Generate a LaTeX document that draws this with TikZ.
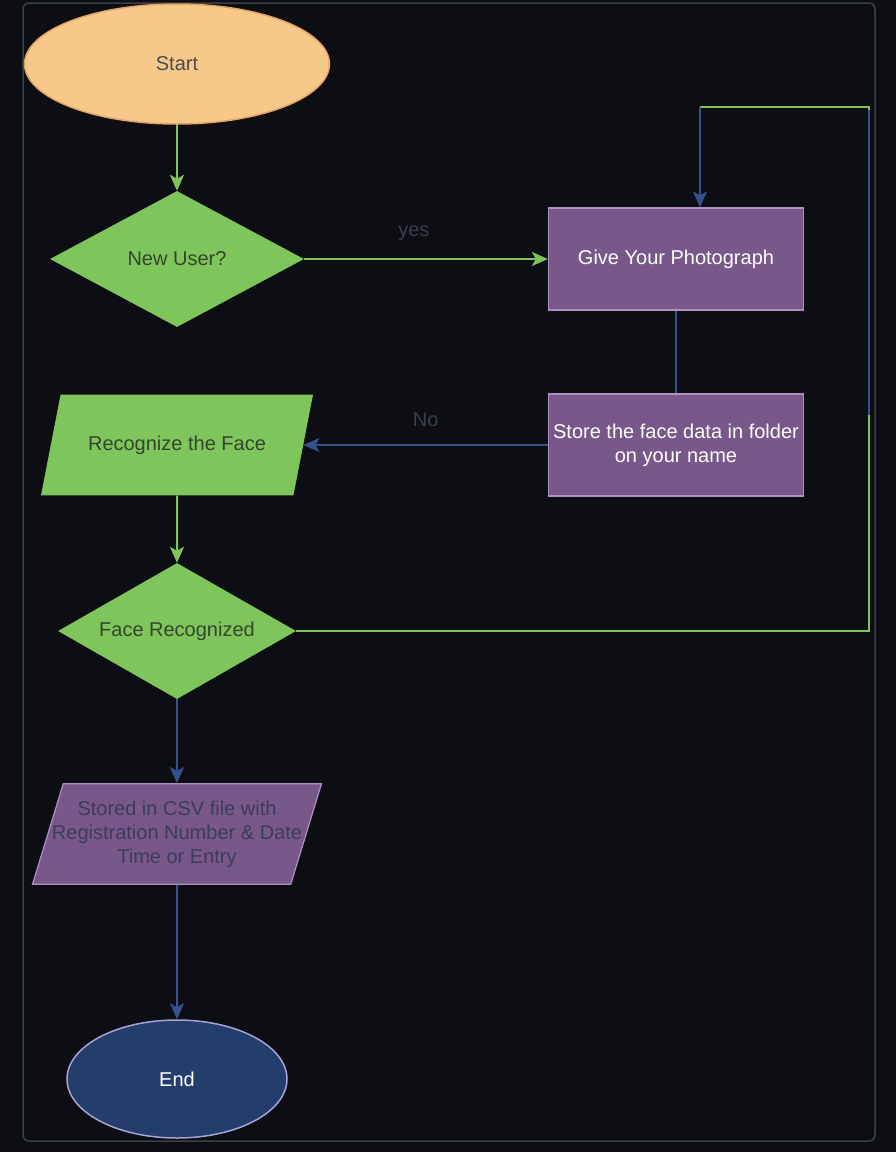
\documentclass[tikz,border=0pt]{standalone}
\usepackage{fontspec}
\setmainfont{Liberation Sans}
\usepackage{tikz}
\usetikzlibrary{shapes.geometric, arrows.meta, positioning}
\definecolor{NightBg}{HTML}{0C0E13}
\definecolor{FrameGrey}{HTML}{3B4048}
\definecolor{Peach}{HTML}{F6C98B}
\definecolor{PeachEdge}{HTML}{E5A262}
\definecolor{LeafGreen}{HTML}{7EC65C}
\definecolor{LeafText}{HTML}{34452C}
\definecolor{Plum}{HTML}{785789}
\definecolor{PlumEdge}{HTML}{AD90C4}
\definecolor{Navy}{HTML}{243E6C}
\definecolor{NavyEdge}{HTML}{A9A3D4}
\definecolor{LineBlue}{HTML}{36528E}
\definecolor{LabelGrey}{HTML}{3A3E4C}
\definecolor{InkPlum}{HTML}{3C3C5E}

\tikzset{
    base/.style={font=\fontsize{20}{24}\selectfont, align=center, inner sep=0pt},
    terminal/.style={base, ellipse, draw, line width=1.5pt},
    decision/.style={base, diamond, shape aspect=2, fill=LeafGreen, text=LeafText, minimum width=254pt, minimum height=136pt},
    process/.style={base, rectangle, fill=Plum, draw=PlumEdge, line width=1.2pt, text=white, minimum width=255pt, minimum height=102pt},
    io/.style={base, trapezium, trapezium stretches body=true},
    greenline/.style={LeafGreen, line width=2pt},
    blueline/.style={LineBlue, line width=2pt},
    tip/.style={-{Stealth[length=16pt, width=14pt, inset=4pt]}},
    edgelabel/.style={font=\fontsize{20}{24}\selectfont, text=LabelGrey},
}

\begin{document}
\begin{tikzpicture}[x=1pt, y=-1pt]
    \fill[NightBg] (0,0) rectangle (896,1152);
    \useasboundingbox (0,0) rectangle (896,1152);
    \draw[FrameGrey, line width=1.5pt, rounded corners=6pt] (23,3) rectangle (875,1141);

    % nodes
    \node[terminal, fill=Peach, draw=PeachEdge, text=black!70, minimum width=305pt, minimum height=120pt] (start) at (177,64) {Start};
    \node[decision] (newuser) at (177,259) {New User?};
    \node[process] (photo) at (676,259) {Give Your Photograph};
    \node[process] (store) at (676,445) {Store the face data in folder\\on your name};
    \node[io, fill=LeafGreen, text=LeafText, minimum width=272pt, inner ysep=41pt,
          trapezium left angle=79, trapezium right angle=101] (recognize) at (177,445) {Recognize the Face};
    \node[decision, minimum width=238pt] (facerec) at (177,631) {Face Recognized};
    \node[io, fill=Plum, draw=PlumEdge, line width=1.2pt, text=InkPlum, minimum width=289pt, inner ysep=17pt, inner xsep=-14pt,
          trapezium left angle=73, trapezium right angle=107] (csv) at (177,834) {Stored in CSV file with\\Registration Number \& Date\\Time or Entry};
    \node[terminal, fill=Navy, draw=NavyEdge, text=white, minimum width=220pt, minimum height=118pt] (end) at (177,1079) {End};

    % connectors
    \draw[greenline, tip] (start) -- (newuser);
    \draw[greenline, tip] (newuser) -- (photo) node[pos=0.45, above=14pt, edgelabel]{yes};
    \draw[blueline] (photo) -- (store);
    \draw[blueline, tip] (store) -- (recognize.east |- store) node[midway, above=14pt, edgelabel]{No};
    \draw[greenline, tip] (recognize) -- (facerec);
    \coordinate (loopcorner) at (869,107);
    \coordinate (looptop) at (700,107);
    \draw[greenline] (facerec.east) -| (loopcorner) -- (looptop);
    \draw[blueline] (869,110) -- (869,415);
    \draw[blueline, tip] (looptop) -- (looptop |- photo.north);
    \draw[blueline, tip] (facerec) -- (csv);
    \draw[blueline, tip] (csv) -- (end);
\end{tikzpicture}
\end{document}
